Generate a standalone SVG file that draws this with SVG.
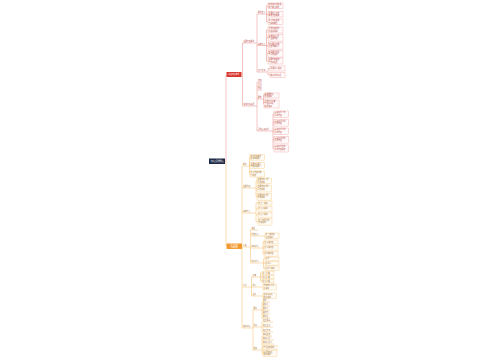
<svg xmlns="http://www.w3.org/2000/svg" width="500" height="360" viewBox="0 0 500 360">
<style>
.bg{fill:#ffffff}
.lr{fill:none;stroke:#e58a86;stroke-width:0.5}
.lo{fill:none;stroke:#f2b866;stroke-width:0.5}
.br{fill:#fffafa;stroke:#f0a4a0;stroke-width:0.4}
.bo{fill:#fffcf5;stroke:#f4c784;stroke-width:0.4}
.t{font-family:"Noto Sans CJK SC","Noto Sans",sans-serif;font-size:1.8px}
.tr{fill:#b8453f}
.to{fill:#a7702a}
.tw{fill:#ffffff}
</style>
<rect class="bg" x="0" y="0" width="500" height="360"/>

<g id="connectors">
  <path class="lr" d="M225 161.5 H226 V75"/>
  <path class="lo" d="M226 161.5 V246"/>
  <path class="lr" d="M241.5 74.5 H242.5 M242.5 43 V106"/>
  <path class="lr" d="M242.5 43 H255 M242.5 106 H255"/>
  <path class="lr" d="M255 43 H257 M257 14 V72 M257 14 H265 M257 45.5 H265 M257 72 H266"/>
  <path class="lr" d="M265 14 H266.5 M266.5 5.8 V21.8 M266.5 5.8 H268 M266.5 14.2 H268 M266.5 21.8 H268"/>
  <path class="lr" d="M265 45.5 H266.5 M266.5 30 V61 M266.5 30 H268 M266.5 37.8 H268 M266.5 45.8 H268 M266.5 53.8 H268 M266.5 61 H268"/>
  <path class="lr" d="M266 72 H268 M268 68.5 V74.8 M268 68.5 H270 M268 74.8 H270"/>
  <path class="lr" d="M255 106 H257 M257 82 V131 M257 82 H262 M257 86 H262 M257 90 H262 M257 99 H263 M257 131 H272"/>
  <path class="lr" d="M263 99 H263.5 M263.5 95.5 V104 M263.5 95.5 H264 M263.5 104 H264"/>
  <path class="lr" d="M272 131 H273 M273 114 V148.5 M273 114 H274 M273 122.8 H274 M273 131.3 H274 M273 139.8 H274 M273 148.5 H274"/>
  <path class="lo" d="M241.5 246 H242 M242 166 V328"/>
  <path class="lo" d="M242 166 H249 M242 188 H255 M242 213 H255 M242 247 H249 M242 287 H250 M242 328 H252"/>
  <path class="lo" d="M249 166 H249.5 M249.5 157.3 V174 M249.5 157.3 H250 M249.5 165.5 H250 M249.5 174 H250"/>
  <path class="lo" d="M255 188 H256 M256 180.8 V196.8 M256 180.8 H257 M256 188.5 H257 M256 196.8 H257"/>
  <path class="lo" d="M255 213 H256 M256 203 V221.8 M256 203 H258 M256 208.8 H258 M256 214.8 H258 M256 221.8 H258"/>
  <path class="lo" d="M249 247 H250.5 M250.5 230 V263 M250.5 230 H258 M250.5 236 H262 M250.5 248 H262 M250.5 263 H262"/>
  <path class="lo" d="M262 236 H265"/>
  <path class="lo" d="M262 248 H263 M263 242 V253.8 M263 242 H264 M263 247.8 H264 M263 253.8 H264"/>
  <path class="lo" d="M262 263 H263.5 M263.5 258.8 V268.3 M263.5 258.8 H265 M263.5 263.3 H265 M263.5 268.3 H265"/>
  <path class="lo" d="M250 287 H251.5 M251.5 277 V296 M251.5 277 H259 M251.5 287 H259 M251.5 296 H259"/>
  <path class="lo" d="M259 277 H260.5 M260.5 273 V281 M260.5 273 H262 M260.5 277 H262 M260.5 281 H262 M259 287 H263 M259 296 H263"/>
  <path class="lo" d="M252 328 H253 M253 310 V350 M253 310 H260 M253 327 H260 M253 350 H260"/>
  <path class="lo" d="M260 310 H262 M262 302 V318 M262 302 H270 M262 306 H270 M262 310 H270 M262 314 H270 M262 318 H270"/>
  <path class="lo" d="M260 327 H262 M262 322 V332 M262 322 H273 M262 327 H273 M262 332 H273"/>
  <path class="lo" d="M260 350 H262 M262 336 V353.5 M262 336 H272 M262 340 H274 M262 344 H274 M262 347.5 H263 M262 353.5 H263"/>
</g>

<g id="root">
  <rect x="209" y="158.5" width="16" height="5.5" fill="#1f2b47"/>
  <text class="t tw" x="217" y="162" text-anchor="middle">知识点思维导图</text>
</g>

<g id="n-red">
  <rect x="226.5" y="72" width="15" height="5" fill="#d8372f"/>
  <text class="t tw" x="234" y="75.2" text-anchor="middle">基础知识梳理</text>
</g>
<g id="n-orange">
  <rect x="226.5" y="243.5" width="15.5" height="5.5" fill="#f29a30"/>
  <text class="t tw" x="234.2" y="246.2" text-anchor="middle">重点内容</text>
  <text class="t tw" x="234.2" y="248.2" text-anchor="middle">归纳总结</text>
</g>

<g id="ra"><text class="t tr" x="243.5" y="42.3">主要内容概述</text></g>
<g id="rb"><text class="t tr" x="243.5" y="105.3">相关知识拓展</text></g>
<g id="ra1"><text class="t tr" x="258" y="13.3">概念定义</text></g>
<g id="ra2"><text class="t tr" x="258" y="44.8">基本特点</text></g>
<g id="ra3"><text class="t tr" x="258" y="71.3">意义作用</text></g>
<g id="rb1"><text class="t tr" x="258" y="81.3">内容</text></g>
<g id="rb2"><text class="t tr" x="258" y="85.3">方法</text></g>
<g id="rb3"><text class="t tr" x="258" y="89.3">原则</text></g>
<g id="rb4"><text class="t tr" x="258" y="98.3">要求</text></g>
<g id="rb5"><text class="t tr" x="258" y="130.3">具体表现形式</text></g>

<g id="ra1-1"><rect class="br" x="268" y="3" width="15" height="5.6"/><text class="t tr" x="268.6" y="5.3">相关知识内容说</text><text class="t tr" x="268.6" y="7.6">明与要点解释</text></g>
<g id="ra1-2"><rect class="br" x="268" y="11.4" width="15" height="5.6"/><text class="t tr" x="268.6" y="13.7">主要观点及其</text><text class="t tr" x="268.6" y="16">基本内容说明</text></g>
<g id="ra1-3"><rect class="br" x="268" y="19" width="15" height="5.6"/><text class="t tr" x="268.6" y="21.3">重点知识总结</text><text class="t tr" x="268.6" y="23.6">与基本概念</text></g>
<g id="ra2-1"><rect class="br" x="268" y="27" width="15" height="6"/><text class="t tr" x="268.6" y="29.3">具体内容描述</text><text class="t tr" x="268.6" y="31.6">及相关说明</text></g>
<g id="ra2-2"><rect class="br" x="268" y="34.5" width="15" height="6.6"/><text class="t tr" x="268.6" y="36.8">基本特征分析</text><text class="t tr" x="268.6" y="39.1">与主要内容</text></g>
<g id="ra2-3"><rect class="br" x="268" y="42.5" width="15" height="6.6"/><text class="t tr" x="268.6" y="44.8">知识要点归纳</text><text class="t tr" x="268.6" y="47.1">及其重要意义</text></g>
<g id="ra2-4"><rect class="br" x="268" y="50.5" width="15" height="6.6"/><text class="t tr" x="268.6" y="52.8">相关概念理解</text><text class="t tr" x="268.6" y="55.1">与具体应用</text></g>
<g id="ra2-5"><rect class="br" x="268" y="58" width="15" height="6"/><text class="t tr" x="268.6" y="60.3">主要内容总结</text><text class="t tr" x="268.6" y="62.6">与知识拓展</text></g>
<g id="ra3-1"><rect class="br" x="270" y="66" width="15" height="5"/><text class="t tr" x="270.6" y="69.2">重要意义说明</text></g>
<g id="ra3-2"><rect class="br" x="270" y="72.3" width="15" height="5"/><text class="t tr" x="270.6" y="75.5">实际作用分析</text></g>
<g id="rb4-1"><rect class="br" x="264" y="93" width="15" height="5"/><text class="t tr" x="264.6" y="94.9">基本要求及</text><text class="t tr" x="264.6" y="96.9">内容说明</text></g>
<g id="rb4-2"><rect class="br" x="264" y="100" width="15" height="8"/><text class="t tr" x="264.6" y="102.2">具体方法步骤</text><text class="t tr" x="264.6" y="104.4">与注意事项</text><text class="t tr" x="264.6" y="106.6">相关说明</text></g>
<g id="rb5-1"><rect class="br" x="274" y="111" width="14.5" height="6.2"/><text class="t tr" x="274.6" y="113.4">表现形式一的</text><text class="t tr" x="274.6" y="115.8">具体内容</text></g>
<g id="rb5-2"><rect class="br" x="274" y="119.5" width="14.5" height="6.6"/><text class="t tr" x="274.6" y="121.9">表现形式二的</text><text class="t tr" x="274.6" y="124.3">具体内容</text></g>
<g id="rb5-3"><rect class="br" x="274" y="128" width="14.5" height="6.6"/><text class="t tr" x="274.6" y="130.4">表现形式三的</text><text class="t tr" x="274.6" y="132.8">具体内容</text></g>
<g id="rb5-4"><rect class="br" x="274" y="136.5" width="14.5" height="6.6"/><text class="t tr" x="274.6" y="138.9">表现形式四的</text><text class="t tr" x="274.6" y="141.3">具体内容</text></g>
<g id="rb5-5"><rect class="br" x="274" y="145" width="14.5" height="7"/><text class="t tr" x="274.6" y="147.4">表现形式五的</text><text class="t tr" x="274.6" y="149.8">具体内容说明</text></g>

<g id="o1"><text class="t to" x="243" y="165.3">概述</text></g>
<g id="o2"><text class="t to" x="243" y="187.3">主要内容</text></g>
<g id="o3"><text class="t to" x="243" y="212.3">基本特点</text></g>
<g id="o4"><text class="t to" x="243" y="246.3">分类</text></g>
<g id="o5"><text class="t to" x="243" y="286.3">方法</text></g>
<g id="o6"><text class="t to" x="243" y="327.3">相关知识</text></g>

<g id="o1-1"><rect class="bo" x="250" y="154.5" width="14.5" height="5.6"/><text class="t to" x="250.6" y="156.8">相关内容概述</text><text class="t to" x="250.6" y="159.1">及基本说明</text></g>
<g id="o1-2"><rect class="bo" x="250" y="162.5" width="14.5" height="6"/><text class="t to" x="250.6" y="164.8">主要知识要点</text><text class="t to" x="250.6" y="167.1">与相关说明</text></g>
<g id="o1-3"><rect class="bo" x="250" y="171" width="14.5" height="6"/><text class="t to" x="250.6" y="173.3">重点内容归纳</text><text class="t to" x="250.6" y="175.6">与总结</text></g>
<g id="o2-1"><rect class="bo" x="257" y="178" width="14.5" height="5.6"/><text class="t to" x="257.6" y="180.3">主要内容一的</text><text class="t to" x="257.6" y="182.6">具体说明</text></g>
<g id="o2-2"><rect class="bo" x="257" y="185" width="14.5" height="7"/><text class="t to" x="257.6" y="187.3">主要内容二的</text><text class="t to" x="257.6" y="189.6">具体说明</text></g>
<g id="o2-3"><rect class="bo" x="257" y="193.5" width="14.5" height="6.6"/><text class="t to" x="257.6" y="195.8">主要内容三的</text><text class="t to" x="257.6" y="198.1">具体说明</text></g>
<g id="o3-1"><rect class="bo" x="258" y="201" width="14" height="4"/><text class="t to" x="258.6" y="203.6">特点一说明</text></g>
<g id="o3-2"><rect class="bo" x="258" y="206.5" width="14" height="4.6"/><text class="t to" x="258.6" y="209.4">特点二说明</text></g>
<g id="o3-3"><rect class="bo" x="258" y="212.5" width="14" height="4.6"/><text class="t to" x="258.6" y="215.4">特点三说明</text></g>
<g id="o3-4"><rect class="bo" x="258" y="218.5" width="14" height="6.6"/><text class="t to" x="258.6" y="220.8">特点四的具体</text><text class="t to" x="258.6" y="223.1">内容说明</text></g>

<g id="o4-1"><text class="t to" x="251.5" y="229.3">类型</text></g>
<g id="o4-2"><text class="t to" x="251.5" y="235.3">按性质分</text></g>
<g id="o4-3"><text class="t to" x="251.5" y="247.3">按用途分</text></g>
<g id="o4-4"><text class="t to" x="251.5" y="262.3">按形式分</text></g>
<g id="o4-2-1"><rect class="bo" x="265" y="233" width="14" height="5.6"/><text class="t to" x="265.6" y="235.3">第一类内容</text><text class="t to" x="265.6" y="237.6">及其说明</text></g>
<g id="o4-3-1"><rect class="bo" x="264" y="240" width="14" height="4"/><text class="t to" x="264.6" y="242.6">第二类内容</text></g>
<g id="o4-3-2"><rect class="bo" x="264" y="245.5" width="14" height="4.6"/><text class="t to" x="264.6" y="248.4">第三类内容</text></g>
<g id="o4-3-3"><rect class="bo" x="264" y="251.5" width="14" height="4.6"/><text class="t to" x="264.6" y="254.4">第四类内容</text></g>
<g id="o4-4-1"><rect class="bo" x="265" y="257" width="14" height="3.6"/><text class="t to" x="265.6" y="259.4">形式一</text></g>
<g id="o4-4-2"><rect class="bo" x="265" y="261.5" width="14" height="3.6"/><text class="t to" x="265.6" y="263.9">形式二</text></g>
<g id="o4-4-3"><rect class="bo" x="265" y="266" width="14" height="4.6"/><text class="t to" x="265.6" y="268.9">形式三说明</text></g>

<g id="o5-1"><text class="t to" x="252.5" y="276.3">步骤</text></g>
<g id="o5-2"><text class="t to" x="252.5" y="286.3">技巧</text></g>
<g id="o5-3"><text class="t to" x="252.5" y="295.3">注意</text></g>
<g id="o5-1-1"><rect class="bo" x="262" y="271.5" width="12" height="3"/><text class="t to" x="262.5" y="273.6">第一步骤</text></g>
<g id="o5-1-2"><rect class="bo" x="262" y="275.5" width="12" height="3"/><text class="t to" x="262.5" y="277.6">第二步骤</text></g>
<g id="o5-1-3"><rect class="bo" x="262" y="279.5" width="12" height="3"/><text class="t to" x="262.5" y="281.6">第三步骤</text></g>
<g id="o5-2-1"><rect class="bo" x="263" y="284" width="13.5" height="6"/><text class="t to" x="263.6" y="286.3">常用技巧方法</text><text class="t to" x="263.6" y="288.6">及说明</text></g>
<g id="o5-3-1"><rect class="bo" x="263" y="293" width="13.5" height="5.6"/><text class="t to" x="263.6" y="295.3">注意事项及</text><text class="t to" x="263.6" y="297.6">相关说明</text></g>

<g id="o6-1"><text class="t to" x="253.5" y="309.3">要素</text></g>
<g id="o6-2"><text class="t to" x="253.5" y="326.3">关系</text></g>
<g id="o6-3"><text class="t to" x="253.5" y="349.3">应用</text></g>
<g id="o6-1-1"><text class="t to" x="263" y="301.3">要素一</text></g>
<g id="o6-1-2"><text class="t to" x="263" y="305.3">要素二</text></g>
<g id="o6-1-3"><text class="t to" x="263" y="309.3">要素三</text></g>
<g id="o6-1-4"><text class="t to" x="263" y="313.3">要素四</text></g>
<g id="o6-1-5"><text class="t to" x="263" y="317.3">要素五</text></g>
<g id="o6-2-1"><text class="t to" x="263" y="321.3">相互联系</text></g>
<g id="o6-2-2"><text class="t to" x="263" y="326.3">相互区别</text></g>
<g id="o6-2-3"><text class="t to" x="263" y="331.3">相互作用</text></g>
<g id="o6-3-1"><text class="t to" x="263" y="335.3">实际应用</text></g>
<g id="o6-3-2"><text class="t to" x="263" y="339.3">实例分析一</text></g>
<g id="o6-3-3"><text class="t to" x="263" y="343.3">实例分析二</text></g>
<g id="o6-3-4"><rect class="bo" x="263" y="345.2" width="14" height="4.6"/><text class="t to" x="263.6" y="348.1">综合应用说明</text></g>
<g id="o6-3-5"><rect class="bo" x="263" y="350.6" width="14" height="6"/><text class="t to" x="263.6" y="352.9">拓展应用及</text><text class="t to" x="263.6" y="355.2">相关说明</text></g>
</svg>
